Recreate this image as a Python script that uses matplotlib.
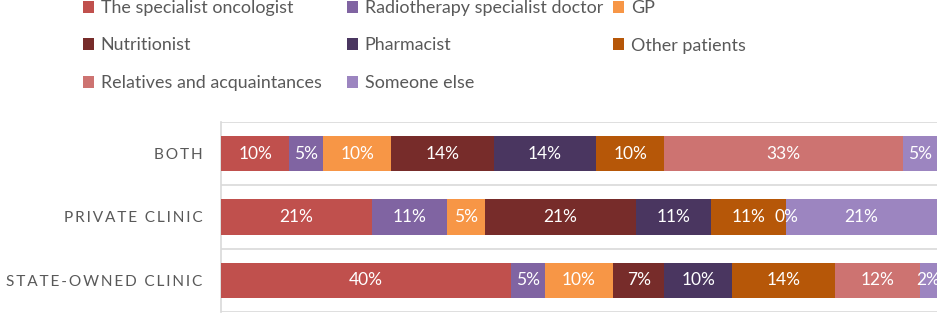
import numpy as np
import matplotlib
matplotlib.use("Agg")
import matplotlib.pyplot as plt
from matplotlib.patches import Patch

plt.rcParams['font.family'] = ['Lato', 'DejaVu Sans']

# -----------------------------
# data (respondent counts per source)
# -----------------------------
categories = ["STATE-OWNED CLINIC", "PRIVATE CLINIC", "BOTH"]
sources = ["The specialist oncologist", "Radiotherapy specialist doctor", "GP",
           "Nutritionist", "Pharmacist", "Other patients",
           "Relatives and acquaintances", "Someone else"]
counts_state = [17, 2, 4, 3, 4, 6, 5, 1]
counts_private = [4, 2, 1, 4, 2, 2, 0, 4]
counts_both = [2, 1, 2, 3, 3, 2, 7, 1]

colors = ["#C0504D", "#8064A2", "#F79646", "#772C2A",
          "#4A3660", "#B65708", "#CD7371", "#9C85C0"]

counts = np.array([counts_state, counts_private, counts_both], dtype=float)
pct = counts / counts.sum(axis=1, keepdims=True) * 100

# -----------------------------
# plot
# -----------------------------
fig = plt.figure(figsize=(9.41, 3.14), dpi=100)
ax = fig.add_axes([221 / 941, 2 / 314, 716 / 941, 190 / 314])

y = np.arange(len(categories))
left = np.zeros(len(categories))
for j, name in enumerate(sources):
    w = pct[:, j]
    ax.barh(y, w, left=left, height=0.56, color=colors[j], zorder=3)
    for i in range(len(categories)):
        ax.text(left[i] + w[i] / 2, y[i], f"{w[i]:.0f}%", ha="center", va="center",
                color="white", fontsize=12.5, zorder=4)
    left += w

ax.set_xlim(0, 100)
ax.set_ylim(-0.5, len(categories) - 0.5)
for b in np.arange(len(categories) + 1) - 0.5:
    ax.axhline(b, color="#D9D9D9", lw=1.2, zorder=1)

for s in ["top", "right", "bottom"]:
    ax.spines[s].set_visible(False)
ax.spines["left"].set_color("#D9D9D9")
ax.spines["left"].set_linewidth(1.2)
ax.set_xticks([])
ax.set_yticks(y)
ax.set_yticklabels(["\u2009".join(c) for c in categories], fontsize=11.1, color="#595959")
ax.tick_params(axis="y", length=0, pad=13.5)

# legend: three columns placed at fixed x positions, rows read across
ncol = 3
col_x = [83, 347, 613]
for c in range(ncol):
    idx = list(range(c, len(sources), ncol))
    leg = fig.legend([Patch(facecolor=colors[k], edgecolor="none") for k in idx],
                     [sources[k] for k in idx],
                     loc="upper left", bbox_to_anchor=(col_x[c] / 941, 1.0),
                     frameon=False, fontsize=12.9, handlelength=0.64, handleheight=0.64,
                     handletextpad=0.35, labelspacing=1.2,
                     borderaxespad=0, borderpad=0)
    for t in leg.get_texts():
        t.set_color("#595959")

fig.savefig("out.png", dpi=100)
